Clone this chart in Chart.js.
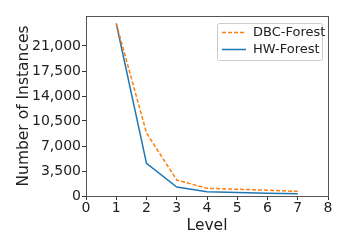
<!DOCTYPE html>
<html>
<head>
<meta charset="utf-8">
<script src="https://cdn.jsdelivr.net/npm/chart.js@4/dist/chart.umd.min.js"></script>
<style>
  html, body { margin: 0; padding: 0; background: #fff; }
  #wrap { width: 349px; height: 249px; }
</style>
</head>
<body>
<div id="wrap"><canvas id="grafico" width="349" height="249"></canvas></div>
<script>
// === Datos ===
const niveles = [1, 2, 3, 4, 5, 6, 7];
const dbcForest = [24150, 8820, 2240, 1070, 950, 820, 650];
const hwForest = [24150, 4570, 1260, 600, 500, 400, 320];
const ticksY = [0, 3500, 7000, 10500, 14000, 17500, 21000];
const ticksX = [0, 1, 2, 3, 4, 5, 6, 7, 8];

const fuente = 'DejaVu Sans';
const gris = '#333';

// marco de 4 lados + leyenda dentro del area
const marcoLeyenda = {
    id: 'marcoLeyenda',
    afterDraw(chart) {
        const { ctx, chartArea: a } = chart;
        ctx.save();
        ctx.strokeStyle = '#555';
        ctx.lineWidth = 1;
        ctx.strokeRect(Math.round(a.left) + 0.5, Math.round(a.top) + 0.5,
            Math.round(a.right - a.left), Math.round(a.bottom - a.top));

        // leyenda
        const x0 = a.right - 111, y0 = a.top + 7, w = 105, h = 37;
        ctx.fillStyle = 'rgba(255,255,255,0.8)';
        ctx.strokeStyle = '#ccc';
        ctx.beginPath();
        ctx.roundRect(x0 + 0.5, y0 + 0.5, w, h, 2);
        ctx.fill();
        ctx.stroke();

        chart.data.datasets.forEach((ds, i) => {
            const y = y0 + 9.5 + i * 17;
            ctx.strokeStyle = ds.borderColor;
            ctx.lineWidth = 1.5;
            ctx.setLineDash(ds.borderDash || []);
            ctx.beginPath();
            ctx.moveTo(x0 + 5, y);
            ctx.lineTo(x0 + 29, y);
            ctx.stroke();
            ctx.setLineDash([]);
            ctx.fillStyle = '#222';
            ctx.font = '13px ' + fuente;
            ctx.textBaseline = 'middle';
            ctx.fillText(ds.label, x0 + 36, y);
        });
        ctx.restore();
    }
};

new Chart(document.getElementById('grafico').getContext('2d'), {
    type: 'line',
    data: {
        datasets: [
            {
                label: 'DBC-Forest',
                data: niveles.map((n, i) => ({ x: n, y: dbcForest[i] })),
                borderColor: '#ff7f0e',
                borderWidth: 1.5,
                borderDash: [4, 2],
                pointRadius: 0,
                fill: false,
                tension: 0
            },
            {
                label: 'HW-Forest',
                data: niveles.map((n, i) => ({ x: n, y: hwForest[i] })),
                borderColor: '#1f77b4',
                borderWidth: 1.5,
                pointRadius: 0,
                fill: false,
                tension: 0
            }
        ]
    },
    options: {
        responsive: false,
        animation: false,
        layout: { padding: { left: 15, top: 16, right: 21, bottom: 14 } },
        plugins: {
            legend: { display: false },
            tooltip: { enabled: false }
        },
        scales: {
            x: {
                type: 'linear',
                min: 0,
                max: 8,
                afterBuildTicks: s => { s.ticks = ticksX.map(v => ({ value: v })); },
                afterFit: s => { s.height = 39; },
                grid: { drawOnChartArea: false, tickLength: 4, color: gris },
                border: { color: '#555' },
                ticks: { color: '#222', font: { family: fuente, size: 14 }, padding: 0, maxRotation: 0 },
                title: { display: true, text: 'Level', color: '#222', font: { family: fuente, size: 15.5 }, padding: { top: 0, bottom: 0 } }
            },
            y: {
                type: 'linear',
                min: 0,
                max: 25200,
                afterBuildTicks: s => { s.ticks = ticksY.map(v => ({ value: v })); },
                afterFit: s => { s.width = 71; },
                grid: { drawOnChartArea: false, tickLength: 4, color: gris },
                border: { color: '#555' },
                ticks: {
                    color: '#222',
                    font: { family: fuente, size: 14 },
                    padding: 1,
                    callback: v => v.toLocaleString('en-US')
                },
                title: { display: true, text: 'Number of Instances', color: '#222', font: { family: fuente, size: 15.5 }, padding: { top: 0, bottom: 0 } }
            }
        }
    },
    plugins: [marcoLeyenda]
});
</script>
</body>
</html>
